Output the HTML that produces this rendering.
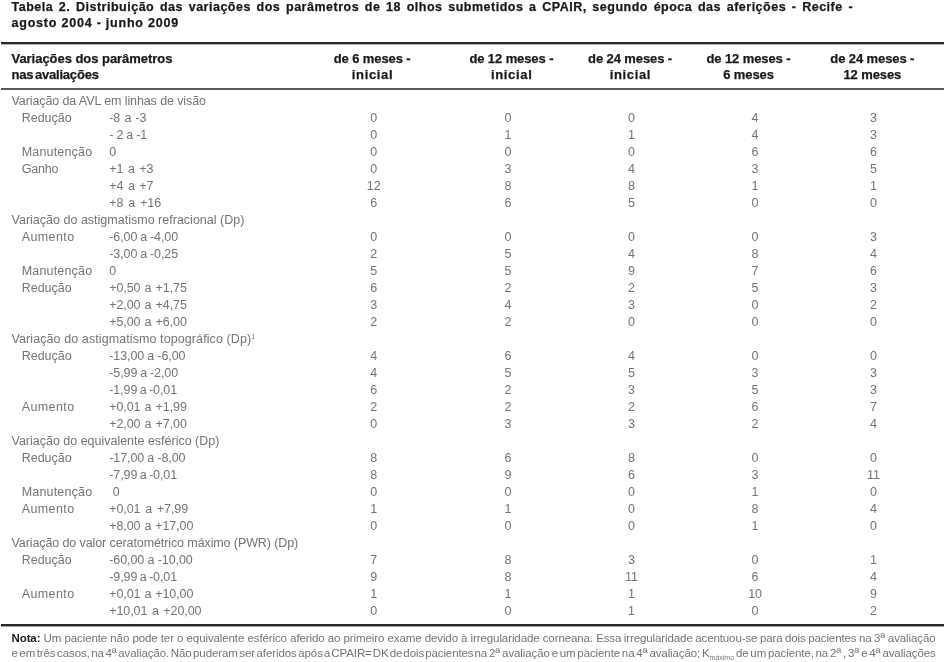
<!DOCTYPE html>
<html lang="pt"><head><meta charset="utf-8"><title>Tabela 2</title>
<style>
html,body{margin:0;padding:0;background:#fff;}
body{width:945px;height:662px;position:relative;overflow:hidden;font-family:"Liberation Sans",sans-serif;color:#222;}
.title{position:absolute;left:11.5px;top:-1px;-webkit-text-stroke:0.25px #1a1a1a;width:940px;font-weight:bold;font-size:12.5px;line-height:16.3px;color:#1a1a1a;letter-spacing:0.4px;word-spacing:0.5px;white-space:nowrap;}
.rule{position:absolute;left:1px;width:943px;background:#2a2a2a;}
.r1{top:42px;height:2px;border-bottom:1px solid #b4b4b4;}
.r2{top:88px;height:2px;background:#5a5a5a;}
.r3{top:624px;height:2px;border-bottom:1px solid #a0a0a0;}
.hd{position:absolute;top:51px;-webkit-text-stroke:0.25px #1a1a1a;font-weight:bold;font-size:13px;line-height:16.4px;color:#1a1a1a;letter-spacing:-0.1px;white-space:nowrap;}
.hd.h0{left:11.5px;text-align:left;}
.hd.hc{width:120px;text-align:center;}
.rows{position:absolute;left:0;top:93px;width:945px;}
.row{position:relative;height:17px;font-size:12.5px;line-height:17px;color:#747474;white-space:nowrap;}
.row span{position:absolute;top:0;}
.g{left:11.5px;letter-spacing:-0.1px;}
.l{left:21.7px;}
.v{left:109.3px;letter-spacing:-0.1px;}
.c{width:60px;text-align:center;}
.c1{left:343.8px;} .c2{left:478px;} .c3{left:601.6px;} .c4{left:725.1px;} .c5{left:843.4px;}
.row sup{position:static;font-size:7px;vertical-align:top;line-height:12px;}
.note{position:absolute;left:11.5px;top:631.2px;width:935px;font-size:11.5px;line-height:14.6px;color:#747474;white-space:nowrap;letter-spacing:-0.12px;}
#wrap{position:absolute;left:0;top:0;width:945px;height:662px;will-change:transform;}
.note b{color:#1a1a1a;}
.o{font-size:13.5px;line-height:0;letter-spacing:0;}
#t1{letter-spacing:0.5px;word-spacing:1.73px;}
#t2{letter-spacing:0.8px;word-spacing:-0.09px;}
#n1{letter-spacing:-0.1px;word-spacing:0.09px;}
#n2{letter-spacing:-0.1px;word-spacing:-1.25px;}
.note sub{font-size:7px;letter-spacing:0;vertical-align:baseline;position:relative;top:3px;}
</style></head><body><div id="wrap">
<div class="title"><span id="t1">Tabela 2. Distribuição das variações dos parâmetros de 18 olhos submetidos a CPAIR, segundo época das aferições - Recife -</span><br><span id="t2">agosto 2004 - junho 2009</span></div>
<div class="rule r1"></div>
<div class="hd h0"><span style="letter-spacing:-0.04px">Variações dos parâmetros</span><br><span style="word-spacing:-1.8px;letter-spacing:-0.2px">nas avaliações</span></div>
<div class="hd hc" style="left:312.2px">de 6 meses -<br><span style="letter-spacing:0.65px;margin-left:0.65px">inicial</span></div>
<div class="hd hc" style="left:451.4px">de 12 meses -<br><span style="letter-spacing:0.65px;margin-left:0.65px">inicial</span></div>
<div class="hd hc" style="left:570.1px">de 24 meses -<br><span style="letter-spacing:0.65px;margin-left:0.65px">inicial</span></div>
<div class="hd hc" style="left:688.5px">de 12 meses -<br>6 meses</div>
<div class="hd hc" style="left:812.3px">de 24 meses -<br>12 meses</div>
<div class="rule r2"></div>
<div class="rows">
<div class="row"><span class="g">Variação da AVL em linhas de visão</span></div>
<div class="row"><span class="l">Redução</span><span class="v" style="word-spacing:0.8px">-8 a -3</span><span class="c c1">0</span><span class="c c2">0</span><span class="c c3">0</span><span class="c c4">4</span><span class="c c5">3</span></div>
<div class="row"><span class="v" style="word-spacing:-0.3px">- 2 a -1</span><span class="c c1">0</span><span class="c c2">1</span><span class="c c3">1</span><span class="c c4">4</span><span class="c c5">3</span></div>
<div class="row"><span class="l" style="letter-spacing:0.18px">Manutenção</span><span class="v">0</span><span class="c c1">0</span><span class="c c2">0</span><span class="c c3">0</span><span class="c c4">6</span><span class="c c5">6</span></div>
<div class="row"><span class="l" style="letter-spacing:-0.2px">Ganho</span><span class="v" style="word-spacing:1.2px">+1 a +3</span><span class="c c1">0</span><span class="c c2">3</span><span class="c c3">4</span><span class="c c4">3</span><span class="c c5">5</span></div>
<div class="row"><span class="v" style="word-spacing:1.2px">+4 a +7</span><span class="c c1">12</span><span class="c c2">8</span><span class="c c3">8</span><span class="c c4">1</span><span class="c c5">1</span></div>
<div class="row"><span class="v" style="word-spacing:1.6px">+8 a +16</span><span class="c c1">6</span><span class="c c2">6</span><span class="c c3">5</span><span class="c c4">0</span><span class="c c5">0</span></div>
<div class="row"><span class="g" style="letter-spacing:0.01px">Variação do astigmatismo refracional (Dp)</span></div>
<div class="row"><span class="l" style="letter-spacing:0.4px">Aumento</span><span class="v" style="word-spacing:-0.45px">-6,00 a -4,00</span><span class="c c1">0</span><span class="c c2">0</span><span class="c c3">0</span><span class="c c4">0</span><span class="c c5">3</span></div>
<div class="row"><span class="v" style="word-spacing:-0.45px">-3,00 a -0,25</span><span class="c c1">2</span><span class="c c2">5</span><span class="c c3">4</span><span class="c c4">8</span><span class="c c5">4</span></div>
<div class="row"><span class="l" style="letter-spacing:0.18px">Manutenção</span><span class="v">0</span><span class="c c1">5</span><span class="c c2">5</span><span class="c c3">9</span><span class="c c4">7</span><span class="c c5">6</span></div>
<div class="row"><span class="l">Redução</span><span class="v" style="word-spacing:0.8px">+0,50 a +1,75</span><span class="c c1">6</span><span class="c c2">2</span><span class="c c3">2</span><span class="c c4">5</span><span class="c c5">3</span></div>
<div class="row"><span class="v" style="word-spacing:0.8px">+2,00 a +4,75</span><span class="c c1">3</span><span class="c c2">4</span><span class="c c3">3</span><span class="c c4">0</span><span class="c c5">2</span></div>
<div class="row"><span class="v" style="word-spacing:0.8px">+5,00 a +6,00</span><span class="c c1">2</span><span class="c c2">2</span><span class="c c3">0</span><span class="c c4">0</span><span class="c c5">0</span></div>
<div class="row"><span class="g" style="letter-spacing:0.09px">Variação do astigmatismo topográfico (Dp)<sup>1</sup></span></div>
<div class="row"><span class="l">Redução</span><span class="v" style="word-spacing:-0.2px">-13,00 a -6,00</span><span class="c c1">4</span><span class="c c2">6</span><span class="c c3">4</span><span class="c c4">0</span><span class="c c5">0</span></div>
<div class="row"><span class="v" style="word-spacing:-0.45px">-5,99 a -2,00</span><span class="c c1">4</span><span class="c c2">5</span><span class="c c3">5</span><span class="c c4">3</span><span class="c c5">3</span></div>
<div class="row"><span class="v" style="word-spacing:-0.95px">-1,99 a -0,01</span><span class="c c1">6</span><span class="c c2">2</span><span class="c c3">3</span><span class="c c4">5</span><span class="c c5">3</span></div>
<div class="row"><span class="l" style="letter-spacing:0.4px">Aumento</span><span class="v" style="word-spacing:0.8px">+0,01 a +1,99</span><span class="c c1">2</span><span class="c c2">2</span><span class="c c3">2</span><span class="c c4">6</span><span class="c c5">7</span></div>
<div class="row"><span class="v" style="word-spacing:0.8px">+2,00 a +7,00</span><span class="c c1">0</span><span class="c c2">3</span><span class="c c3">3</span><span class="c c4">2</span><span class="c c5">4</span></div>
<div class="row"><span class="g" style="letter-spacing:-0.01px">Variação do equivalente esférico (Dp)</span></div>
<div class="row"><span class="l">Redução</span><span class="v" style="word-spacing:-0.2px">-17,00 a -8,00</span><span class="c c1">8</span><span class="c c2">6</span><span class="c c3">8</span><span class="c c4">0</span><span class="c c5">0</span></div>
<div class="row"><span class="v" style="word-spacing:-0.95px">-7,99 a -0,01</span><span class="c c1">8</span><span class="c c2">9</span><span class="c c3">6</span><span class="c c4">3</span><span class="c c5">11</span></div>
<div class="row"><span class="l" style="letter-spacing:0.18px">Manutenção</span><span class="v">&nbsp;0</span><span class="c c1">0</span><span class="c c2">0</span><span class="c c3">0</span><span class="c c4">1</span><span class="c c5">0</span></div>
<div class="row"><span class="l" style="letter-spacing:0.4px">Aumento</span><span class="v" style="word-spacing:1.45px">+0,01 a +7,99</span><span class="c c1">1</span><span class="c c2">1</span><span class="c c3">0</span><span class="c c4">8</span><span class="c c5">4</span></div>
<div class="row"><span class="v" style="word-spacing:0.65px">+8,00 a +17,00</span><span class="c c1">0</span><span class="c c2">0</span><span class="c c3">0</span><span class="c c4">1</span><span class="c c5">0</span></div>
<div class="row"><span class="g">Variação do valor ceratométrico máximo (PWR) (Dp)</span></div>
<div class="row"><span class="l">Redução</span><span class="v">-60,00 a -10,00</span><span class="c c1">7</span><span class="c c2">8</span><span class="c c3">3</span><span class="c c4">0</span><span class="c c5">1</span></div>
<div class="row"><span class="v" style="word-spacing:-0.95px">-9,99 a -0,01</span><span class="c c1">9</span><span class="c c2">8</span><span class="c c3">11</span><span class="c c4">6</span><span class="c c5">4</span></div>
<div class="row"><span class="l" style="letter-spacing:0.4px">Aumento</span><span class="v" style="word-spacing:0.65px">+0,01 a +10,00</span><span class="c c1">1</span><span class="c c2">1</span><span class="c c3">1</span><span class="c c4">10</span><span class="c c5">9</span></div>
<div class="row"><span class="v" style="word-spacing:1.25px">+10,01 a +20,00</span><span class="c c1">0</span><span class="c c2">0</span><span class="c c3">1</span><span class="c c4">0</span><span class="c c5">2</span></div>
</div>
<div class="rule r3"></div>
<div class="note"><span id="n1"><b>Nota:</b> Um paciente não pode ter o equivalente esférico aferido ao primeiro exame devido à irregularidade corneana. <span style="word-spacing:-0.61px">Essa irregularidade acentuou-se para dois pacientes na 3<span class="o">ª</span> avaliação</span></span><br><span id="n2"><span style="word-spacing:-1.52px">e em três casos, na 4<span class="o">ª</span> avaliação. Não puderam ser aferidos </span><span style="word-spacing:-2.00px">após a CPAIR= DK de dois pacientes </span><span style="word-spacing:-1.27px">na 2<span class="o">ª</span> avaliação e um paciente na 4<span class="o">ª</span> avaliação; K<sub>máximo</sub> de um paciente, na 2<span class="o">ª</span> , 3<span class="o">ª</span> e 4<span class="o">ª</span> avaliações</span></span></div>
</div></body></html>
